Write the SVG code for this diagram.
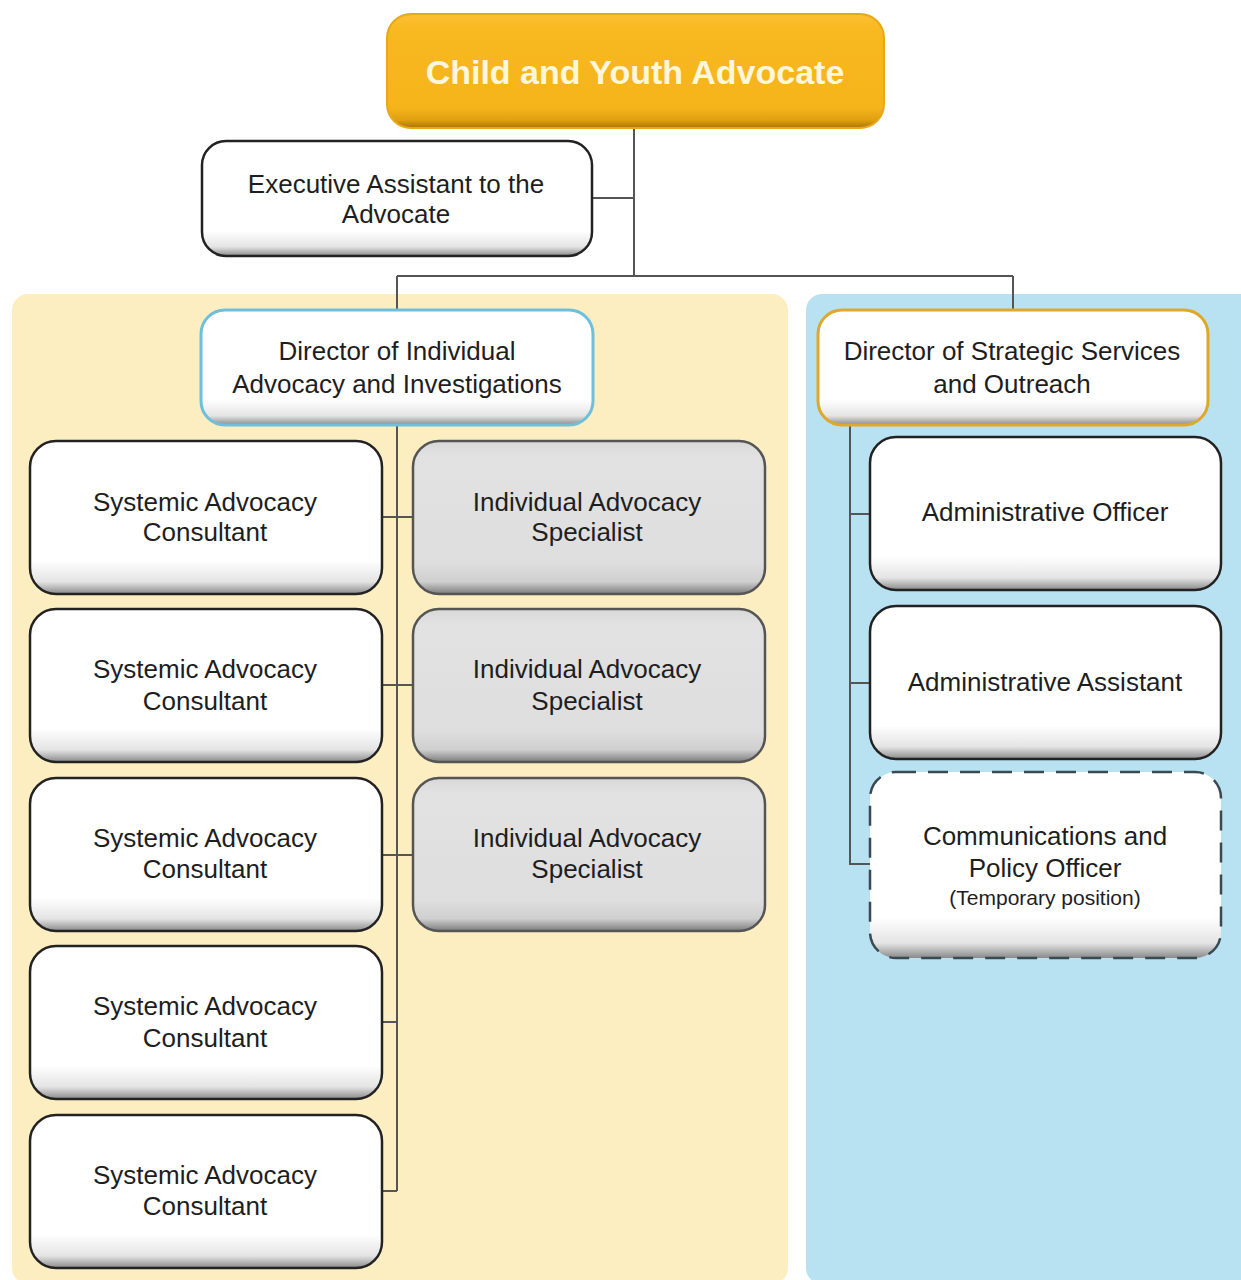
<svg xmlns="http://www.w3.org/2000/svg" width="1241" height="1280" viewBox="0 0 1241 1280">
<defs>
<linearGradient id="gWhite" x1="0" y1="0" x2="0" y2="1">
<stop offset="0" stop-color="#ffffff"/>
<stop offset="0.78" stop-color="#ffffff"/>
<stop offset="0.92" stop-color="#e4e4e4"/>
<stop offset="1" stop-color="#8a8a8a"/>
</linearGradient>
<linearGradient id="gGray" x1="0" y1="0" x2="0" y2="1">
<stop offset="0" stop-color="#d8d8d8"/>
<stop offset="0.1" stop-color="#e2e2e2"/>
<stop offset="0.8" stop-color="#dedede"/>
<stop offset="0.92" stop-color="#cfcfcf"/>
<stop offset="1" stop-color="#7c7c7c"/>
</linearGradient>
<linearGradient id="gOrange" x1="0" y1="0" x2="0" y2="1">
<stop offset="0" stop-color="#fbbf33"/>
<stop offset="0.15" stop-color="#f8b81f"/>
<stop offset="0.82" stop-color="#f6b41b"/>
<stop offset="0.93" stop-color="#e0a010"/>
<stop offset="1" stop-color="#a87508"/>
</linearGradient>
<style>
.lbl{font-family:"Liberation Sans",Arial,sans-serif;font-size:26px;fill:#1e1e1e;text-anchor:middle}
.sm{font-size:21px}
.title{font-family:"Liberation Sans",Arial,sans-serif;font-size:34px;font-weight:bold;fill:#fff6dc;text-anchor:middle}
.box{fill:url(#gWhite);stroke:#222;stroke-width:2.5}
.gbox{fill:url(#gGray);stroke:#555;stroke-width:2.5}
.conn{fill:none;stroke:#555;stroke-width:2}
</style>
</defs>
<rect x="0" y="0" width="1241" height="1280" fill="#ffffff"/>
<g id="panels">
<rect x="12" y="294" width="776" height="990" rx="16" fill="#fdeec2"/>
<rect x="806" y="294" width="450" height="990" rx="16" fill="#b8e2f2"/>
</g>
<g id="connectors">
<path class="conn" d="M634 128 V276 M592 198 H634 M397 276 H1013 M397 276 V310 M1013 276 V310"/>
<path class="conn" d="M397 425 V1191 M382 517 H413 M382 685 H413 M382 855 H413 M382 1022 H397 M382 1191 H397"/>
<path class="conn" d="M850 425 V864 H870 M850 514 H870 M850 683 H870"/>
</g>
<g id="n-advocate">
<rect x="387" y="14" width="497" height="114" rx="24" fill="url(#gOrange)" stroke="#e8a818" stroke-width="2"/>
<text class="title" x="635" y="84">Child and Youth Advocate</text>
</g>
<g id="n-exec">
<rect class="box" x="202" y="141" width="390" height="115" rx="24"/>
<text class="lbl" x="396" y="193">Executive Assistant to the</text>
<text class="lbl" x="396" y="223">Advocate</text>
</g>
<g id="n-dir-individual">
<rect x="201" y="310" width="392" height="115" rx="24" fill="url(#gWhite)" stroke="#6cc0de" stroke-width="3"/>
<text class="lbl" x="397" y="360">Director of Individual</text>
<text class="lbl" x="397" y="393">Advocacy and Investigations</text>
</g>
<g id="n-dir-strategic">
<rect x="818" y="310" width="390" height="115" rx="24" fill="url(#gWhite)" stroke="#e0a82a" stroke-width="3"/>
<text class="lbl" x="1012" y="360">Director of Strategic Services</text>
<text class="lbl" x="1012" y="393">and Outreach</text>
</g>
<g id="n-sac1">
<rect class="box" x="30" y="441" width="352" height="153" rx="26"/>
<text class="lbl" x="205" y="511">Systemic Advocacy</text>
<text class="lbl" x="205" y="541">Consultant</text>
</g>
<g id="n-sac2">
<rect class="box" x="30" y="609" width="352" height="153" rx="26"/>
<text class="lbl" x="205" y="678">Systemic Advocacy</text>
<text class="lbl" x="205" y="710">Consultant</text>
</g>
<g id="n-sac3">
<rect class="box" x="30" y="778" width="352" height="153" rx="26"/>
<text class="lbl" x="205" y="847">Systemic Advocacy</text>
<text class="lbl" x="205" y="878">Consultant</text>
</g>
<g id="n-sac4">
<rect class="box" x="30" y="946" width="352" height="153" rx="26"/>
<text class="lbl" x="205" y="1015">Systemic Advocacy</text>
<text class="lbl" x="205" y="1047">Consultant</text>
</g>
<g id="n-sac5">
<rect class="box" x="30" y="1115" width="352" height="153" rx="26"/>
<text class="lbl" x="205" y="1184">Systemic Advocacy</text>
<text class="lbl" x="205" y="1215">Consultant</text>
</g>
<g id="n-ias1">
<rect class="gbox" x="413" y="441" width="352" height="153" rx="26"/>
<text class="lbl" x="587" y="511">Individual Advocacy</text>
<text class="lbl" x="587" y="541">Specialist</text>
</g>
<g id="n-ias2">
<rect class="gbox" x="413" y="609" width="352" height="153" rx="26"/>
<text class="lbl" x="587" y="678">Individual Advocacy</text>
<text class="lbl" x="587" y="710">Specialist</text>
</g>
<g id="n-ias3">
<rect class="gbox" x="413" y="778" width="352" height="153" rx="26"/>
<text class="lbl" x="587" y="847">Individual Advocacy</text>
<text class="lbl" x="587" y="878">Specialist</text>
</g>
<g id="n-admin-officer">
<rect class="box" x="870" y="437" width="351" height="153" rx="26"/>
<text class="lbl" x="1045" y="521">Administrative Officer</text>
</g>
<g id="n-admin-assistant">
<rect class="box" x="870" y="606" width="351" height="153" rx="26"/>
<text class="lbl" x="1045" y="691">Administrative Assistant</text>
</g>
<g id="n-comms">
<rect x="870" y="772" width="351" height="186" rx="26" fill="url(#gWhite)" stroke="#3a4a55" stroke-width="2.5" stroke-dasharray="20 12"/>
<text class="lbl" x="1045" y="845">Communications and</text>
<text class="lbl" x="1045" y="877">Policy Officer</text>
<text class="lbl sm" x="1045" y="905">(Temporary position)</text>
</g>
</svg>
